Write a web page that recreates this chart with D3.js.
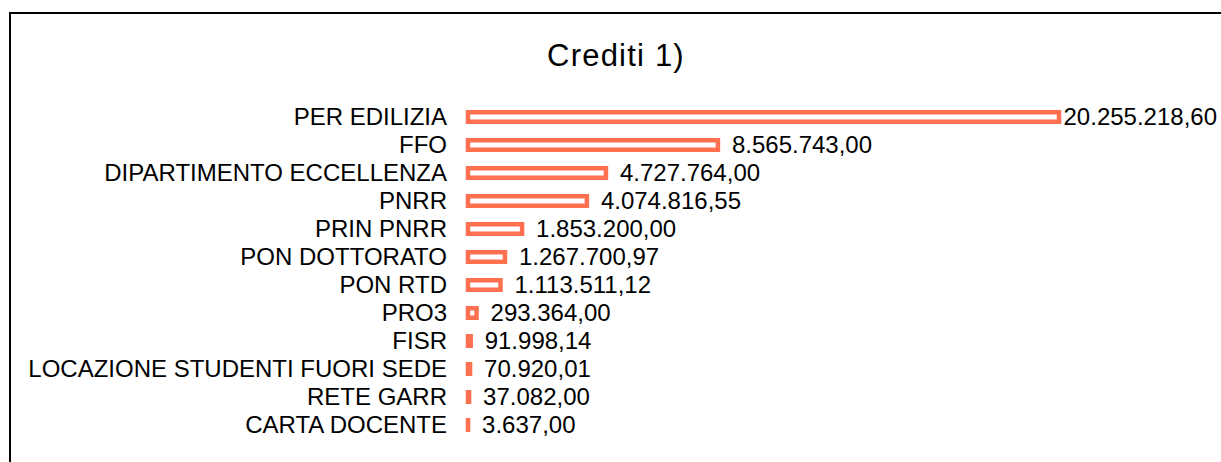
<!DOCTYPE html>
<html>
<head>
<meta charset="utf-8">
<script src="https://cdn.jsdelivr.net/npm/d3@7"></script>
<style>
  body { margin: 0; background: #fff; }
  svg { display: block; font-family: "Liberation Sans", Arial, sans-serif; }
</style>
</head>
<body>
<div id="chart"></div>
<script>
var categories = [
    "PER EDILIZIA",
    "FFO",
    "DIPARTIMENTO ECCELLENZA",
    "PNRR",
    "PRIN PNRR",
    "PON DOTTORATO",
    "PON RTD",
    "PRO3",
    "FISR",
    "LOCAZIONE STUDENTI FUORI SEDE",
    "RETE GARR",
    "CARTA DOCENTE"
];
var amounts = [
    20255218.60,
    8565743.00,
    4727764.00,
    4074816.55,
    1853200.00,
    1267700.97,
    1113511.12,
    293364.00,
    91998.14,
    70920.01,
    37082.00,
    3637.00
];
var chartTitle = "Crediti 1)";

var W = 1221, H = 462;
var barColor = "#FF7050";
var itFormat = d3.formatLocale({decimal: ",", thousands: ".", grouping: [3], currency: ["", " €"]}).format(",.2f");

var svg = d3.select("#chart").append("svg")
    .attr("width", W).attr("height", H);

// chart frame (runs past the right and bottom edges)
svg.append("rect")
    .attr("x", 10).attr("y", 13)
    .attr("width", 1400).attr("height", 600)
    .attr("fill", "none").attr("stroke", "#000").attr("stroke-width", 2);

svg.append("text")
    .attr("x", 616).attr("y", 65.5)
    .attr("text-anchor", "middle")
    .style("font-size", "31px")
    .style("letter-spacing", "1.2px")
    .text(chartTitle);

var x = d3.scaleLinear()
    .domain([0, d3.max(amounts)])
    .range([468, 1059]);

var y = d3.scaleBand()
    .domain(categories)
    .range([103, 439])
    .padding(0);

var data = categories.map(function(c, i){ return {cat: c, val: amounts[i]}; });
var barH = 9.5;

var rows = svg.selectAll(".row").data(data).enter()
    .append("g").attr("class", "row")
    .attr("transform", function(d){ return "translate(0," + (y(d.cat) + y.bandwidth() / 2) + ")"; });

rows.append("rect")
    .attr("x", x(0))
    .attr("y", -barH / 2)
    .attr("width", function(d){ return x(d.val) - x(0); })
    .attr("height", barH)
    .attr("fill", "#fff")
    .attr("stroke", barColor)
    .attr("stroke-width", 4.5);

rows.append("text")
    .attr("x", 447)
    .attr("dy", "0.35em")
    .attr("text-anchor", "end")
    .style("font-size", "24px")
    .text(function(d){ return d.cat; });

rows.append("text")
    .attr("class", "val")
    .attr("dy", "0.35em")
    .style("font-size", "24px")
    .text(function(d){ return itFormat(d.val); })
    .attr("x", function(d){
        var tw = this.getComputedTextLength();
        return Math.min(x(d.val) + 14, W - 4 - tw);
    });
</script>
</body>
</html>
